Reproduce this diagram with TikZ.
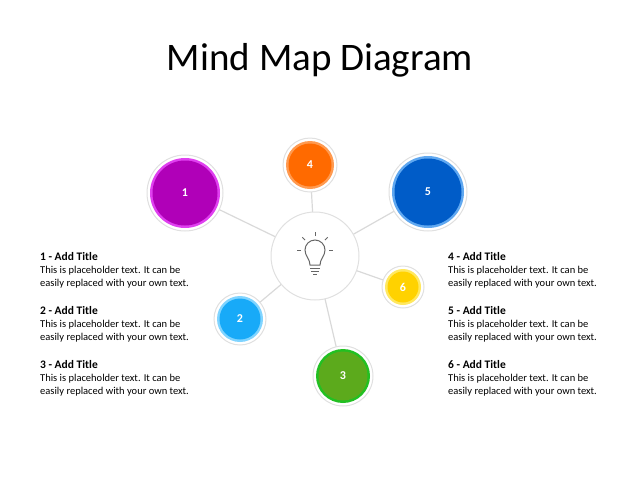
\documentclass[tikz,border=0pt]{standalone}
\usepackage{fontspec}
\setmainfont{Carlito}
\usetikzlibrary{calc}
\definecolor{c1}{HTML}{B000B8}\definecolor{r1}{HTML}{E040F0}
\definecolor{c2}{HTML}{18AAF8}\definecolor{r2}{HTML}{80D4FF}
\definecolor{c3}{HTML}{5CAA1C}\definecolor{r3}{HTML}{22C022}
\definecolor{c4}{HTML}{FF6A00}\definecolor{r4}{HTML}{FF9A50}
\definecolor{c5}{HTML}{005CC8}\definecolor{r5}{HTML}{60A8F0}
\definecolor{c6}{HTML}{FFD200}\definecolor{r6}{HTML}{FFE860}
\begin{document}
\begin{tikzpicture}[x=1pt,y=-1pt,
  link/.style={draw=black!15,line width=1.2pt},
  bub/.style={circle,draw=black!12,line width=1pt,fill=white,inner sep=0pt},
  num/.style={text=white,font=\bfseries\fontsize{12}{12}\selectfont},
  ttl/.style={anchor=north west,font=\bfseries\fontsize{11.5}{12}\selectfont,inner sep=0pt},
  bd/.style={anchor=north west,align=left,font=\fontsize{10.5}{13.5}\selectfont,inner sep=0pt}]
\useasboundingbox (0,0) rectangle (640,480);
\node (t) at (320,60) {\fontsize{39}{44}\selectfont Mind Map Diagram};
\coordinate (c) at (315,256);
\coordinate (p1) at (185,193);
\coordinate (p2) at (240,319);
\coordinate (p3) at (343,376);
\coordinate (p4) at (310,165);
\coordinate (p5) at (428,192);
\coordinate (p6) at (403,287);
\foreach \p in {p1,p2,p3,p4,p5,p6} \draw[link] (c) -- (\p);
\node[bub,minimum size=88pt] (ctr) at (c) {};
% bulb
\begin{scope}[shift={(315,256)},draw=black!60,line width=1pt]
\draw (-5,9) .. controls (-5,3) and (-10,0) .. (-10,-6) arc[start angle=180,end angle=360,radius=10] .. controls (10,0) and (5,3) .. (5,9) -- cycle;
\draw (-5,12) -- (5,12) (-4,15) -- (4,15) (-2,18)--(2,18);
\foreach \a in {180,225,270,315,360} \draw ($(0,-6)+(\a:14)$) -- ($(0,-6)+(\a:18)$);
\end{scope}
\newcommand\bubble[6]{%
 \node[bub,minimum size=#3+6] (#1o) at (#2) {};
 \node[circle,fill=#5,minimum size=#3,inner sep=0pt] (#1r) at (#2) {};
 \node[circle,fill=#4,minimum size=#3-5,inner sep=0pt,num] (#1) at (#2) {#6};}
\bubble{b1}{p1}{70pt}{c1}{r1}{1}
\bubble{b2}{p2}{46pt}{c2}{r2}{2}
\bubble{b3}{p3}{54pt}{c3}{r3}{3}
\bubble{b4}{p4}{48pt}{c4}{r4}{4}
\bubble{b5}{p5}{72pt}{c5}{r5}{5}
\bubble{b6}{p6}{36pt}{c6}{r6}{6}
\foreach \x/\n/\k/\y in {40/1/a/252,40/2/b/306,40/3/c/360,448/4/d/252,448/5/e/306,448/6/f/360}{
 \node[ttl] (h\k) at (\x,\y) {\n\ - Add Title};
 \node[bd] (d\k) at (\x,\y+14) {This is placeholder text. It can be\\easily replaced with your own text.};
}
\end{tikzpicture}
\end{document}
